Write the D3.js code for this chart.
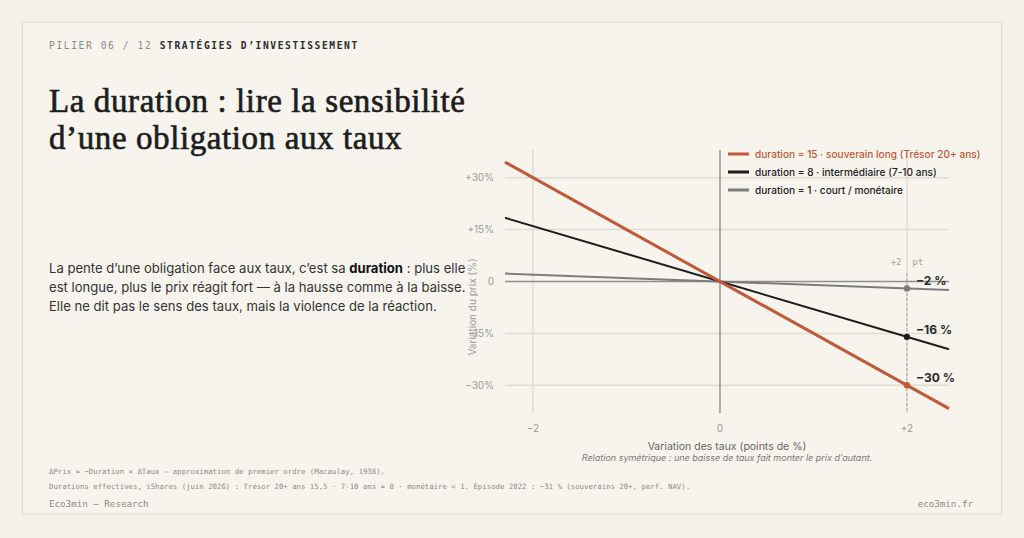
<!DOCTYPE html>
<html><head><meta charset="utf-8">
<script src="https://cdn.jsdelivr.net/npm/d3@7"></script>
<style>
html,body{margin:0;padding:0;background:#f4f1ea;}
svg{display:block;}
</style></head>
<body>
<svg id="c" width="1024" height="538"></svg>
<script>
// ---- data ----
const rateChanges = [-2.3, 2.45];          // x extent of lines (points de %)
const durations = [15, 8, 1];
const seriesNames = ["duration = 15 · souverain long (Trésor 20+ ans)",
                     "duration = 8 · intermédiaire (7-10 ans)",
                     "duration = 1 · court / monétaire"];
const seriesColors = ["#c2583a", "#1c1c1c", "#7c7c7c"];
const shockRate = 2;
const shockLabels = ["−30 %", "−16 %", "−2 %"];
const xTicks = [-2, 0, 2];
const xTickLabels = ["−2", "0", "+2"];
const yTicks = [30, 15, 0, -15, -30];
const yTickLabels = ["+30%", "+15%", "0", "−15%", "−30%"];
const footLines = ["ΔPrix ≈ −Duration × ΔTaux — approximation de premier ordre (Macaulay, 1938).",
  "Durations effectives, iShares (juin 2026) : Trésor 20+ ans 15,5 · 7-10 ans ≈ 8 · monétaire < 1. Épisode 2022 : −31 % (souverains 20+, perf. NAV)."];

const svg = d3.select("#c");
const sans = "Inter, 'Noto Sans', sans-serif";
const mono = "'DejaVu Sans Mono', 'Liberation Mono', monospace";
const serif = "'Liberation Serif', 'DejaVu Serif', serif";

// card
svg.append("rect").attr("x",22.5).attr("y",22.5).attr("width",979).attr("height",491.5)
  .attr("fill","#f7f4ee").attr("stroke","#e2ddd0").attr("stroke-width",1);

// header
const hd = svg.append("text").attr("x",49).attr("y",49).attr("font-family",mono)
  .attr("font-size",9.6).attr("letter-spacing",1.6);
hd.append("tspan").attr("fill","#8a8a8a").text("PILIER 06 / 12 ");
hd.append("tspan").attr("fill","#2a2a2a").attr("font-weight","bold").text("STRATÉGIES D’INVESTISSEMENT");

// title
const tt = svg.append("text").attr("font-family",serif).attr("font-size",33).attr("fill","#1d1d1d")
  .attr("stroke","#1d1d1d").attr("stroke-width",0.65).attr("letter-spacing",0.6);
tt.append("tspan").attr("x",49).attr("y",112).text("La duration : lire la sensibilité");
tt.append("tspan").attr("x",49).attr("y",149).text("d’une obligation aux taux");

// paragraph
const para = svg.append("text").attr("font-family",sans).attr("font-size",13.1).attr("fill","#333");
const l1 = para.append("tspan").attr("x",49).attr("y",273);
l1.append("tspan").text("La pente d’une obligation face aux taux, c’est sa ");
l1.append("tspan").attr("font-weight","bold").attr("fill","#111").text("duration");
l1.append("tspan").text(" : plus elle");
para.append("tspan").attr("x",49).attr("y",292).text("est longue, plus le prix réagit fort — à la hausse comme à la baisse.");
para.append("tspan").attr("x",49).attr("y",311).text("Elle ne dit pas le sens des taux, mais la violence de la réaction.");

// chart
const x = d3.scaleLinear().domain(rateChanges).range([505, 949]);
const y = d3.scaleLinear().domain([-38, 38]).range([413, 150]);
const g = svg.append("g");

// grid
g.selectAll(".hg").data(yTicks.filter(d=>d!==0)).join("line")
  .attr("x1",x.range()[0]).attr("x2",x.range()[1]).attr("y1",d=>y(d)).attr("y2",d=>y(d))
  .attr("stroke","#e0dcd3").attr("stroke-width",1.5);
g.selectAll(".vg").data(xTicks.filter(d=>d!==0)).join("line")
  .attr("x1",d=>x(d)).attr("x2",d=>x(d)).attr("y1",y.range()[1]).attr("y2",y.range()[0])
  .attr("stroke","#e0dcd3").attr("stroke-width",1.5);
// zero axes
g.append("line").attr("x1",x.range()[0]).attr("x2",x.range()[1]).attr("y1",y(0)).attr("y2",y(0))
  .attr("stroke","#8e8e8e").attr("stroke-width",1.4);
g.append("line").attr("x1",x(0)).attr("x2",x(0)).attr("y1",y.range()[1]).attr("y2",y.range()[0])
  .attr("stroke","#8e8e8e").attr("stroke-width",1.4);

// tick labels
g.selectAll(".yl").data(yTicks).join("text")
  .attr("x",494).attr("y",d=>y(d)+3.5).attr("text-anchor","end")
  .attr("font-family",sans).attr("font-size",10).attr("fill","#9a9a9a")
  .text((d,i)=>yTickLabels[i]);
g.selectAll(".xl").data(xTicks).join("text")
  .attr("x",d=>x(d)).attr("y",432).attr("text-anchor","middle")
  .attr("font-family",sans).attr("font-size",10).attr("fill","#9a9a9a")
  .text((d,i)=>xTickLabels[i]);

// axis titles
g.append("text").attr("transform","translate(476,307) rotate(-90)").attr("text-anchor","middle")
  .attr("font-family",sans).attr("font-size",10).attr("fill","#9a9a9a").text("Variation du prix (%)");
g.append("text").attr("x",727).attr("y",450).attr("text-anchor","middle")
  .attr("font-family",sans).attr("font-size",10.5).attr("fill","#666").text("Variation des taux (points de %)");
g.append("text").attr("x",727).attr("y",461).attr("text-anchor","middle").attr("font-style","italic")
  .attr("font-family",sans).attr("font-size",9).attr("fill","#7a7a7a")
  .text("Relation symétrique : une baisse de taux fait monter le prix d’autant.");

// shock marker
g.append("line").attr("x1",x(shockRate)).attr("x2",x(shockRate)).attr("y1",273).attr("y2",y.range()[0])
  .attr("stroke","#a8a8a8").attr("stroke-width",1).attr("stroke-dasharray","3,2");
g.append("text").attr("x",x(shockRate)).attr("y",265).attr("text-anchor","middle")
  .attr("font-family",mono).attr("font-size",9).attr("fill","#a0a0a0").attr("xml:space","preserve").text("+2  pt");

// lines (draw gray first, red last)
const order = [2,1,0];
const line = d3.line().x(d=>x(d[0])).y(d=>y(d[1]));
order.forEach(i=>{
  const D = durations[i];
  g.append("path").datum(rateChanges.map(r=>[r, -D*r]))
    .attr("d",line).attr("fill","none").attr("stroke",seriesColors[i])
    .attr("stroke-width", i===0?3:2);
});
order.forEach(i=>{
  const D = durations[i];
  g.append("circle").attr("cx",x(shockRate)).attr("cy",y(-D*shockRate)).attr("r",3.2)
    .attr("fill",seriesColors[i]);
  g.append("text").attr("x",x(shockRate)+9).attr("y",y(-D*shockRate)-3)
    .attr("font-family",sans).attr("font-size",12).attr("font-weight","bold").attr("fill","#2a2a2a")
    .text(shockLabels[i]);
});

// legend
const lg = g.append("g");
seriesNames.forEach((n,i)=>{
  const yy = 154 + i*18;
  lg.append("line").attr("x1",728).attr("x2",749).attr("y1",yy).attr("y2",yy)
    .attr("stroke",seriesColors[i]).attr("stroke-width",3);
  lg.append("text").attr("x",755).attr("y",yy+3.8).attr("font-family",sans).attr("font-size",10.1)
    .attr("font-weight",500).attr("fill", i===0?seriesColors[0]:"#222").text(n);
});

// footer
footLines.forEach((t,i)=>{
  svg.append("text").attr("x",49).attr("y",474+i*15).attr("font-family",mono).attr("font-size",7.35)
    .attr("fill","#8a8a8a").text(t);
});
svg.append("text").attr("x",49).attr("y",507).attr("font-family",mono).attr("font-size",9.2)
  .attr("fill","#8a8a8a").text("Eco3min — Research");
svg.append("text").attr("x",973).attr("y",507).attr("text-anchor","end").attr("font-family",mono).attr("font-size",9.2)
  .attr("fill","#8a8a8a").text("eco3min.fr");
</script>
</body></html>
